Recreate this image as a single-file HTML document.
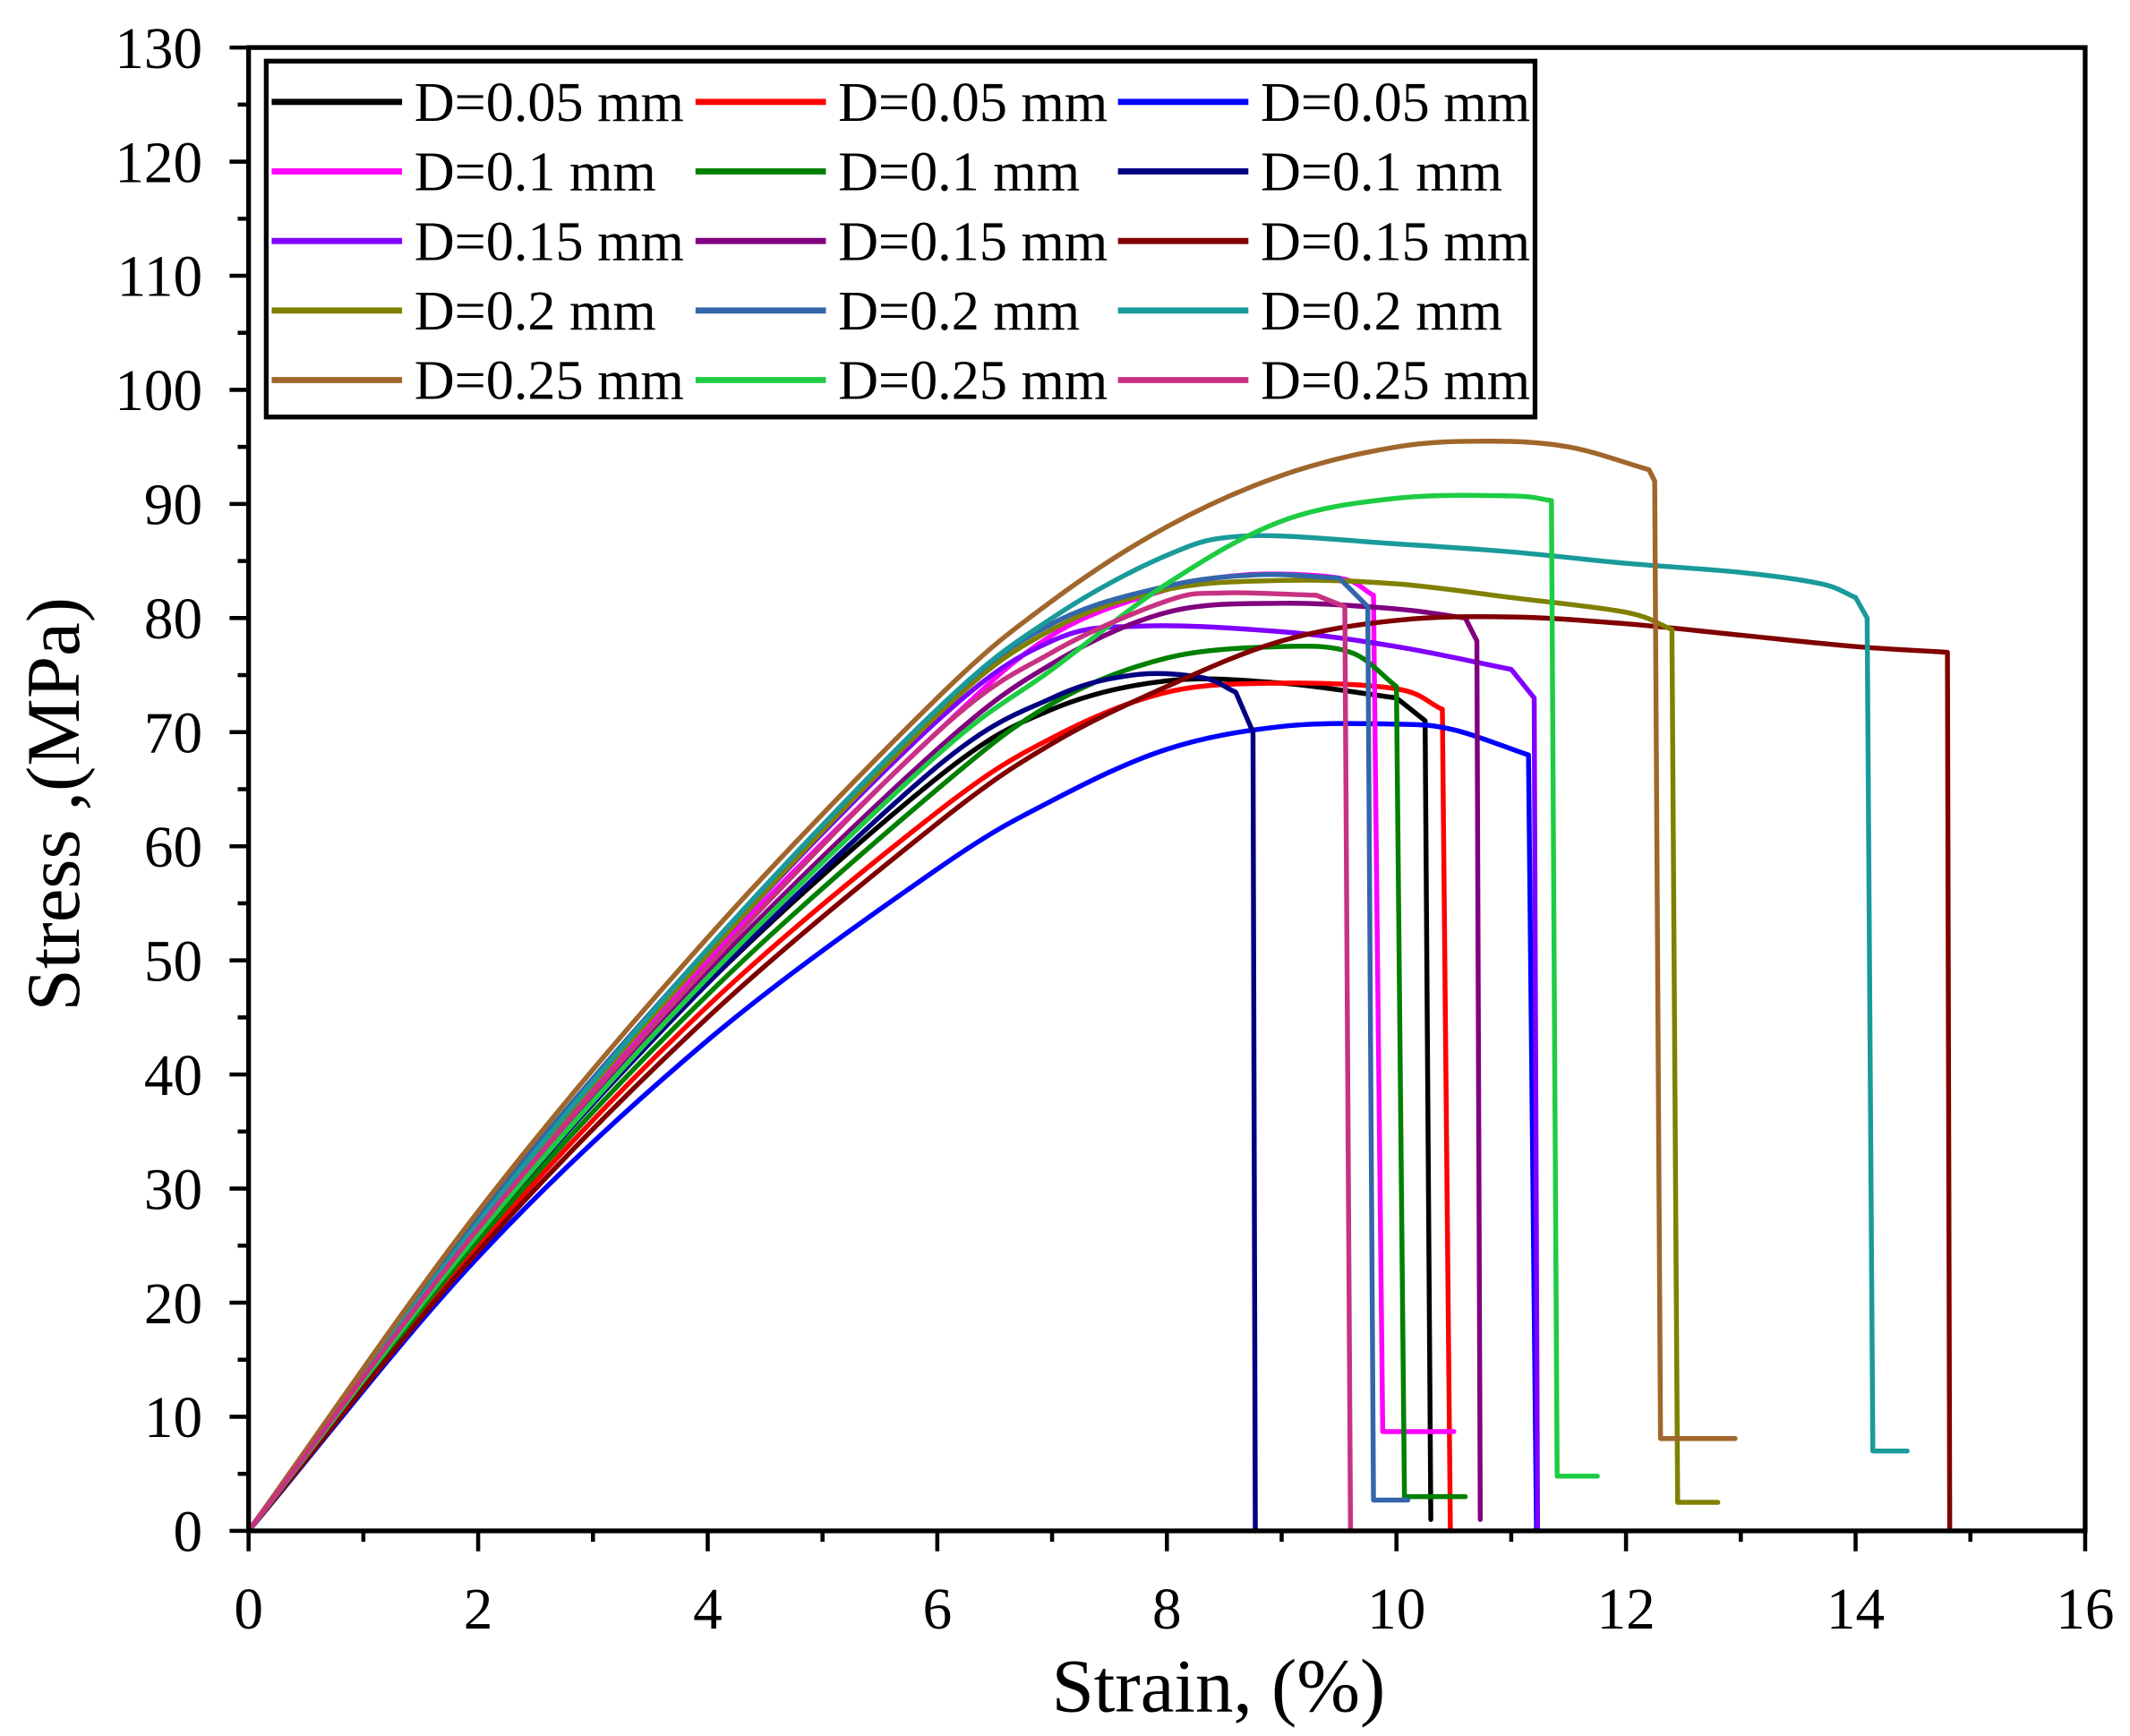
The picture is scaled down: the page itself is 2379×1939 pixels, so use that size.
<!DOCTYPE html>
<html><head><meta charset="utf-8">
<style>
html,body{margin:0;padding:0;background:#fff;}
svg{display:block;}
text{font-family:"Liberation Serif",serif;fill:#000;}
</style></head>
<body>
<svg id="chart" width="2379" height="1939" viewBox="0 0 1568 1278" preserveAspectRatio="none" xmlns="http://www.w3.org/2000/svg">
<g id="grid-ticks"></g>
<g id="curves"></g>
<rect x="183" y="35" width="1352" height="1092" fill="none" stroke="#000" stroke-width="3.5"/>
<g id="legend">
<rect x="196" y="45" width="934" height="262" fill="#fff" stroke="#000" stroke-width="3.5"/>
</g>
<text transform="translate(58,592) rotate(-90)" text-anchor="middle" font-size="56">Stress ,(MPa)</text>
<text x="897" y="1260" text-anchor="middle" font-size="56">Strain, (%)</text>
</svg>
<script>
const xTicks=[0,2,4,6,8,10,12,14,16];
const yTicks=[0,10,20,30,40,50,60,70,80,90,100,110,120,130];
const seriesLabels=["D=0.05 mm","D=0.05 mm","D=0.05 mm","D=0.1 mm","D=0.1 mm","D=0.1 mm","D=0.15 mm","D=0.15 mm","D=0.15 mm","D=0.2 mm","D=0.2 mm","D=0.2 mm","D=0.25 mm","D=0.25 mm","D=0.25 mm"];
const seriesColors=["#000000","#ff0000","#0000ff","#ff00ff","#008000","#000080","#8000ff","#800080","#800000","#808000","#3366aa","#1a9a9a","#a0662b","#1ecc44","#c83282"];
const s1x=[0,2,4,6,7,8,9,10,10.25,10.3]; const s1y=[0,26,48,66,72,74.5,74.3,73,71,1];
const s2x=[0,2,4,6,7,8,9,10,10.4,10.47]; const s2y=[0,25,46,63,69.5,73.5,74.3,73.8,72,0];
const s3x=[0,2,4,6,7,8,9,10,10.5,11.15,11.22]; const s3y=[0,24,43,58,64,68.5,70.5,70.7,70.2,68,0];
const s4x=[0,2,4,6,7,8,8.7,9.5,9.8,9.88,10.5]; const s4y=[0,27,50,70,78.5,82.5,83.8,83.5,82,8.7,8.7];
const s5x=[0,2,4,6,7,8,9,9.6,10,10.07,10.6]; const s5y=[0,25.5,47,65,72.5,76.5,77.5,77,74,3,3];
const s6x=[0,2,4,6,7,7.7,8.3,8.6,8.75,8.77]; const s6y=[0,26,48,67,73,75,74.8,73.5,70,0];
const s7x=[0,2,4,6,7,7.8,9,10,11,11.2,11.23]; const s7y=[0,27,50.5,71,78,79.3,78.8,77.5,75.5,73,0];
const s8x=[0,2,4,6,7,8,9,10,10.6,10.7,10.73]; const s8y=[0,26.5,49,68.5,76,80.5,81.3,80.8,80,78,1];
const s9x=[0,2,4,6,7,8,9,10,11,12,13,14,14.8,14.82]; const s9y=[0,24.5,45,62,69,74,78,79.8,80.1,79.5,78.5,77.5,77,0];
const s10x=[0,2,4,6,7,8,9,10,11,12,12.4,12.45,12.8]; const s10y=[0,27,50.5,71.5,79,82.5,83.3,83,81.8,80.5,79,2.5,2.5];
const s11x=[0,2,4,6,7,8,8.8,9.5,9.75,9.8,10.1]; const s11y=[0,27.5,51,72,79.5,82.8,83.8,83.5,81,2.7,2.7];
const s12x=[0,2,4,6,7,8,8.7,10,11,12,13,13.7,14,14.1,14.15,14.45]; const s12y=[0,27,51,72,80,85.5,87.2,86.5,85.8,84.8,84,83,81.8,80,7,7];
const s13x=[0,2,4,6,7,8,9,10,10.8,11.5,12.2,12.25,12.3,12.95]; const s13y=[0,28,52,73,81.5,88,92.5,95,95.5,95,93,92,8.1,8.1];
const s14x=[0,2,4,6,7,8,9,10,11,11.35,11.4,11.75]; const s14y=[0,26,48.5,68,75.5,83,88.5,90.5,90.7,90.3,4.8,4.8];
const s15x=[0,2,4,6,7,8,8.5,9.3,9.55,9.6]; const s15y=[0,26.5,49.5,70,77,81.5,82.2,82,81,0];
const seriesX=[s1x,s2x,s3x,s4x,s5x,s6x,s7x,s8x,s9x,s10x,s11x,s12x,s13x,s14x,s15x];
const seriesY=[s1y,s2y,s3y,s4y,s5y,s6y,s7y,s8y,s9y,s10y,s11y,s12y,s13y,s14y,s15y];

const NS="http://www.w3.org/2000/svg";
const X0=183,X1=1535,Y0=1127,Y1=35;
function sx(v){return X0+(v-0)/(16-0)*(X1-X0);}
function sy(v){return Y0-(v-0)/(130-0)*(Y0-Y1);}
function mk(tag,attrs,parent){const e=document.createElementNS(NS,tag);for(const k in attrs)e.setAttribute(k,attrs[k]);parent.appendChild(e);return e;}
const tg=document.getElementById('grid-ticks');
xTicks.forEach(v=>{
  const l=mk('line',{x1:sx(v),x2:sx(v),y1:Y0,y2:Y0+15,stroke:'#000','stroke-width':3},tg);
  
  
  if(v<16){const m=mk('line',{x1:sx(v+1),x2:sx(v+1),y1:Y0,y2:Y0+8,stroke:'#000','stroke-width':3},tg);
  
  }
  const t=mk('text',{x:sx(v),y:Y0+72,'text-anchor':'middle','font-size':43},tg);
  
  
  t.textContent=v;
});
yTicks.forEach(v=>{
  const l=mk('line',{x1:X0-14,x2:X0,y1:sy(v),y2:sy(v),stroke:'#000','stroke-width':3},tg);
  
  
  if(v<130){const m=mk('line',{x1:X0-8,x2:X0,y1:sy(v+5),y2:sy(v+5),stroke:'#000','stroke-width':3},tg);
  
  }
  const t=mk('text',{x:X0-34,y:sy(v)+15,'text-anchor':'end','font-size':43},tg);
  
  
  t.textContent=v;
});
function smoothPath(xs,ys){
  const P=xs.map((x,j)=>[sx(x),sy(ys[j])]);
  const n=P.length;
  const isSmooth=j=>j>0&&j<n-1&&(xs[j]-xs[j-1])>0.25&&(xs[j+1]-xs[j])>0.25;
  const tan=j=>{
    if(isSmooth(j)) return [(P[j+1][0]-P[j-1][0])/2,(P[j+1][1]-P[j-1][1])/2];
    return null;
  };
  let d='M'+P[0][0].toFixed(1)+','+P[0][1].toFixed(1);
  for(let j=0;j<n-1;j++){
    const t0=tan(j),t1=tan(j+1);
    if(!t0&&!t1){d+=' L'+P[j+1][0].toFixed(1)+','+P[j+1][1].toFixed(1);continue;}
    const a=t0||[P[j+1][0]-P[j][0],P[j+1][1]-P[j][1]];
    const b=t1||[P[j+1][0]-P[j][0],P[j+1][1]-P[j][1]];
    const c1=[P[j][0]+a[0]/3,P[j][1]+a[1]/3];
    const c2=[P[j+1][0]-b[0]/3,P[j+1][1]-b[1]/3];
    d+=' C'+c1[0].toFixed(1)+','+c1[1].toFixed(1)+' '+c2[0].toFixed(1)+','+c2[1].toFixed(1)+' '+P[j+1][0].toFixed(1)+','+P[j+1][1].toFixed(1);
  }
  return d;
}
const cg=document.getElementById('curves');
seriesX.forEach((xs,i)=>{
  const p=mk('path',{d:smoothPath(xs,seriesY[i]),fill:'none',stroke:seriesColors[i],'stroke-width':3.6,'stroke-linejoin':'round','stroke-linecap':'round'},cg);
  
  
});
const lg=document.getElementById('legend');
const colLine=[200,512,823];
seriesLabels.forEach((lab,i)=>{
  const r=Math.floor(i/3),c=i%3;
  const y=75+r*51.2;
  const l=mk('line',{x1:colLine[c],x2:colLine[c]+96,y1:y,y2:y,stroke:seriesColors[i],'stroke-width':4.5},lg);
  
  
  const t=mk('text',{x:colLine[c]+105,y:y+14,'font-size':41},lg);
  
  
  t.textContent=lab;
});
</script>
</body></html>
